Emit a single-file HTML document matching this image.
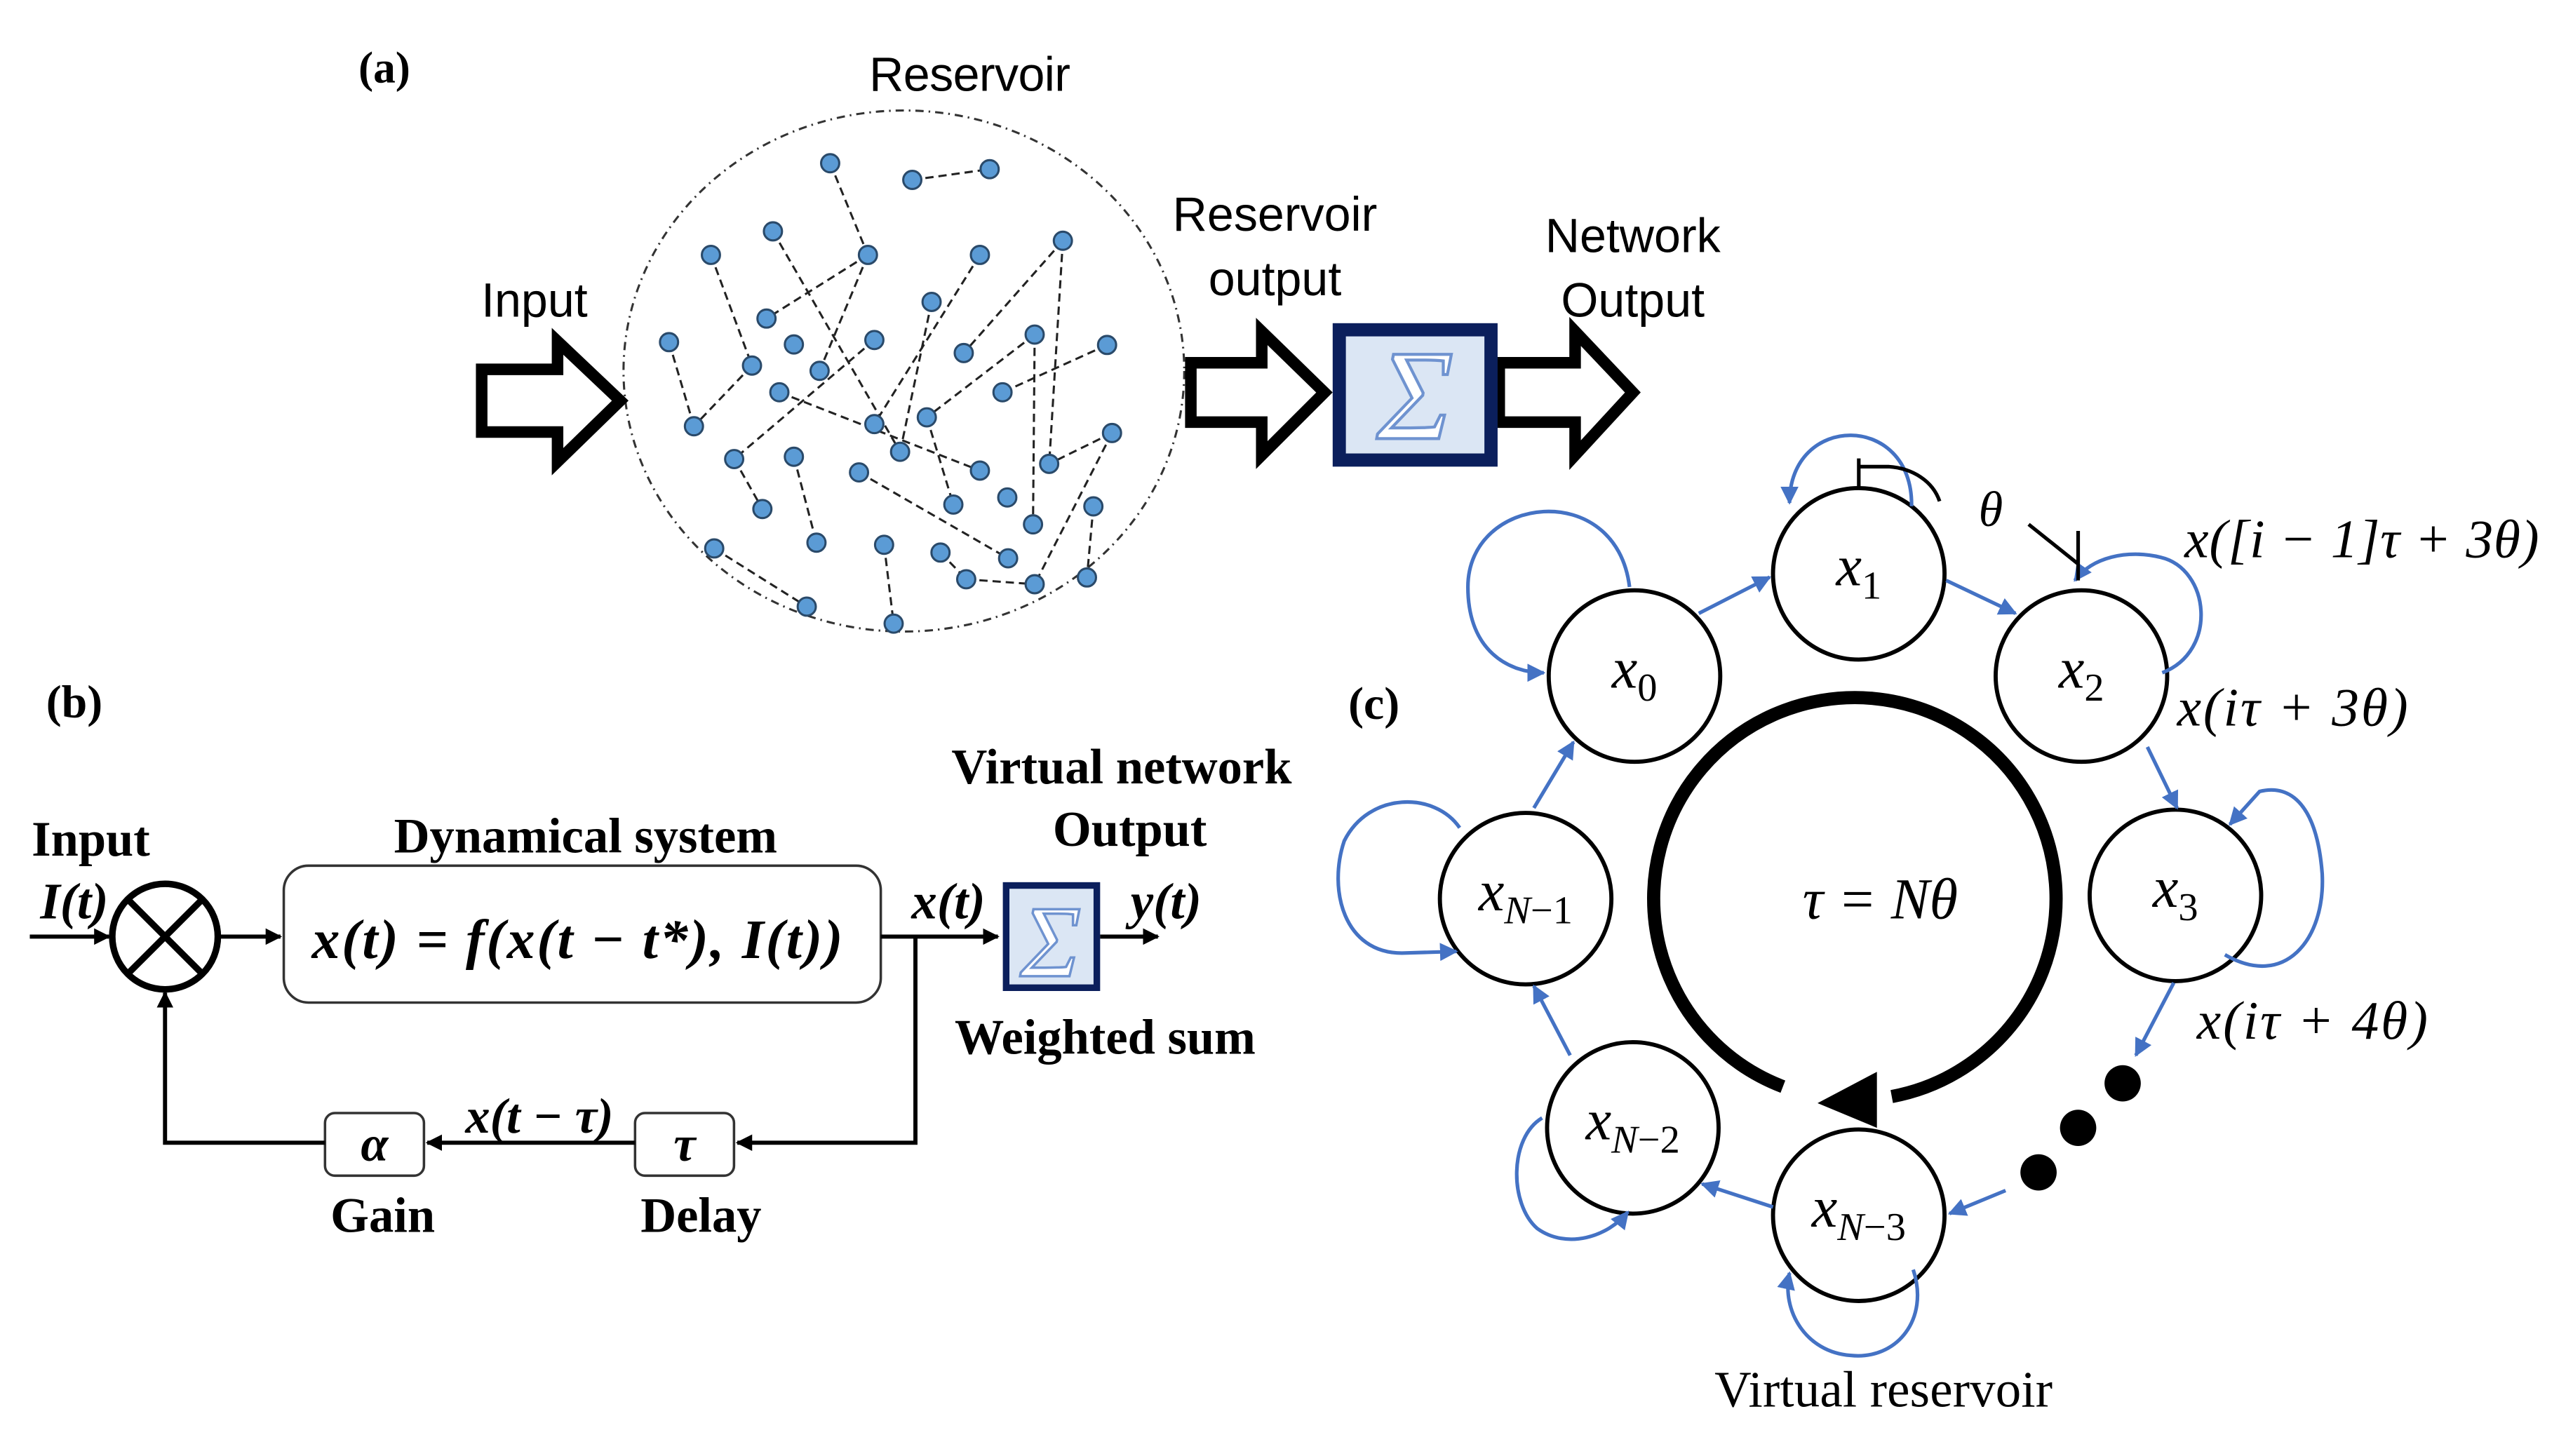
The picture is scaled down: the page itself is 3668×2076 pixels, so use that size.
<!DOCTYPE html>
<html><head><meta charset="utf-8"><style>
html,body{margin:0;padding:0;background:#fff}
svg{display:block}
.sa{font-family:"Liberation Sans",sans-serif;font-size:29px;fill:#000}
.sb{font-family:"Liberation Serif",serif;font-weight:bold;fill:#000}
.mi{font-family:"Liberation Serif",serif;font-style:italic;fill:#000}
.bl{stroke:#4472c4;stroke-width:2.2;fill:none}
</style></head><body>
<svg width="3668" height="2076" viewBox="0 0 1560 883" xmlns="http://www.w3.org/2000/svg">
<defs>
<marker id="ab" viewBox="0 0 10 10" refX="9" refY="5" markerWidth="5" markerHeight="5" orient="auto"><path d="M0,0L10,5L0,10z" fill="#4472c4"/></marker>
<marker id="ak" viewBox="0 0 10 10" refX="9" refY="5" markerWidth="4" markerHeight="4" orient="auto"><path d="M0,0L10,5L0,10z" fill="#000"/></marker>
</defs>
<rect width="1560" height="883" fill="#fff"/>
<!-- (a) -->
<text class="sb" x="233" y="50" font-size="27" text-anchor="middle">(a)</text>
<text class="sa" x="588" y="55" text-anchor="middle" textLength="122">Reservoir</text>
<ellipse cx="548" cy="225" rx="170" ry="158" fill="none" stroke="#333" stroke-width="1.3" stroke-dasharray="5,3,1,3"/>
<g stroke="#222" stroke-width="1.3" stroke-dasharray="5,3" fill="none">
<line x1="553.1" y1="109.1" x2="600" y2="102.6"/>
<line x1="503.3" y1="99" x2="526.2" y2="154.6"/>
<line x1="526.2" y1="154.6" x2="464.7" y2="193.2"/>
<line x1="526.2" y1="154.6" x2="496.9" y2="224.9"/>
<line x1="468.6" y1="140.3" x2="545.7" y2="274"/>
<line x1="431" y1="154.6" x2="455.9" y2="221.7"/>
<line x1="455.9" y1="221.7" x2="420.7" y2="258.5"/>
<line x1="405.6" y1="207.5" x2="420.7" y2="258.5"/>
<line x1="594.1" y1="154.6" x2="530.1" y2="257.2"/>
<line x1="644.4" y1="146" x2="584.3" y2="214.1"/>
<line x1="644.4" y1="146" x2="636.1" y2="281.3"/>
<line x1="627.3" y1="202.9" x2="626.3" y2="318"/>
<line x1="627.3" y1="202.9" x2="561.9" y2="253.1"/>
<line x1="671.2" y1="209.2" x2="607.8" y2="237.9"/>
<line x1="530.1" y1="206.2" x2="445.1" y2="278.4"/>
<line x1="472.5" y1="237.9" x2="594.1" y2="285.4"/>
<line x1="561.9" y1="253.1" x2="578" y2="306"/>
<line x1="674.2" y1="262.6" x2="636.1" y2="281.3"/>
<line x1="674.2" y1="262.6" x2="627.3" y2="354.3"/>
<line x1="445.1" y1="278.4" x2="462.2" y2="308.7"/>
<line x1="481.3" y1="277" x2="495" y2="329.1"/>
<line x1="520.8" y1="286.5" x2="611.2" y2="338.6"/>
<line x1="536" y1="330.4" x2="541.8" y2="378.2"/>
<line x1="570.2" y1="335.1" x2="585.8" y2="351.3"/>
<line x1="585.8" y1="351.3" x2="627.3" y2="354.3"/>
<line x1="662.9" y1="307.1" x2="659" y2="350.2"/>
<line x1="433" y1="332.6" x2="489.1" y2="367.9"/>
<line x1="564.8" y1="183.1" x2="545.7" y2="274"/>
</g>
<g fill="#5b9bd5" stroke="#2a4a6a" stroke-width="1.3">
<circle cx="503.3" cy="99" r="5.5"/><circle cx="553.1" cy="109.1" r="5.5"/><circle cx="600" cy="102.6" r="5.5"/>
<circle cx="468.6" cy="140.3" r="5.5"/><circle cx="431" cy="154.6" r="5.5"/><circle cx="526.2" cy="154.6" r="5.5"/>
<circle cx="594.1" cy="154.6" r="5.5"/><circle cx="644.4" cy="146" r="5.5"/><circle cx="564.8" cy="183.1" r="5.5"/>
<circle cx="464.7" cy="193.2" r="5.5"/><circle cx="405.6" cy="207.5" r="5.5"/><circle cx="481.3" cy="208.9" r="5.5"/>
<circle cx="530.1" cy="206.2" r="5.5"/><circle cx="455.9" cy="221.7" r="5.5"/><circle cx="496.9" cy="224.9" r="5.5"/>
<circle cx="584.3" cy="214.1" r="5.5"/><circle cx="627.3" cy="202.9" r="5.5"/><circle cx="671.2" cy="209.2" r="5.5"/>
<circle cx="472.5" cy="237.9" r="5.5"/><circle cx="607.8" cy="237.9" r="5.5"/><circle cx="420.7" cy="258.5" r="5.5"/>
<circle cx="530.1" cy="257.2" r="5.5"/><circle cx="561.9" cy="253.1" r="5.5"/><circle cx="674.2" cy="262.6" r="5.5"/>
<circle cx="445.1" cy="278.4" r="5.5"/><circle cx="481.3" cy="277" r="5.5"/><circle cx="545.7" cy="274" r="5.5"/>
<circle cx="594.1" cy="285.4" r="5.5"/><circle cx="636.1" cy="281.3" r="5.5"/><circle cx="520.8" cy="286.5" r="5.5"/>
<circle cx="462.2" cy="308.7" r="5.5"/><circle cx="578" cy="306" r="5.5"/><circle cx="610.7" cy="301.7" r="5.5"/>
<circle cx="626.3" cy="318" r="5.5"/><circle cx="662.9" cy="307.1" r="5.5"/><circle cx="433" cy="332.6" r="5.5"/>
<circle cx="495" cy="329.1" r="5.5"/><circle cx="536" cy="330.4" r="5.5"/><circle cx="570.2" cy="335.1" r="5.5"/>
<circle cx="611.2" cy="338.6" r="5.5"/><circle cx="585.8" cy="351.3" r="5.5"/><circle cx="627.3" cy="354.3" r="5.5"/>
<circle cx="659" cy="350.2" r="5.5"/><circle cx="489.1" cy="367.9" r="5.5"/><circle cx="541.8" cy="378.2" r="5.5"/>
</g>
<text class="sa" x="324" y="192" text-anchor="middle">Input</text>
<path d="M292,224 H338 V207 L376,243 L338,280 V262 H292 Z" fill="#fff" stroke="#000" stroke-width="7" stroke-linejoin="miter"/>
<text class="sa" x="773" y="140" text-anchor="middle">Reservoir</text>
<text class="sa" x="773" y="179" text-anchor="middle">output</text>
<path d="M722,220 H765 V201 L803,238 L765,276 V256 H722 Z" fill="#fff" stroke="#000" stroke-width="7"/>
<text class="sa" x="990" y="153" text-anchor="middle">Network</text>
<text class="sa" x="990" y="192" text-anchor="middle">Output</text>
<path d="M909,220 H955 V201 L990,238 L955,276 V256 H909 Z" fill="#fff" stroke="#000" stroke-width="7"/>
<rect x="812" y="200" width="92" height="79" fill="#dbe6f4" stroke="#0b1f5c" stroke-width="8"/>
<text x="858" y="266" text-anchor="middle" font-family="Liberation Serif,serif" font-style="italic" font-size="78" fill="#fff" stroke="#6f93d0" stroke-width="1.8">Σ</text>
<!-- (b) -->
<text class="sb" x="45" y="435" font-size="28" text-anchor="middle">(b)</text>
<text class="sb" x="55" y="519" font-size="30" text-anchor="middle">Input</text>
<text class="mi" x="45" y="557" font-size="31" font-weight="bold" text-anchor="middle">I(t)</text>
<line x1="18" y1="568" x2="66" y2="568" stroke="#000" stroke-width="2.5" marker-end="url(#ak)"/>
<circle cx="100" cy="568" r="32" fill="#fff" stroke="#000" stroke-width="4"/>
<line x1="77" y1="545" x2="123" y2="591" stroke="#000" stroke-width="4"/>
<line x1="123" y1="545" x2="77" y2="591" stroke="#000" stroke-width="4"/>
<line x1="133" y1="568" x2="170" y2="568" stroke="#000" stroke-width="2.5" marker-end="url(#ak)"/>
<text class="sb" x="355" y="517" font-size="30" text-anchor="middle">Dynamical system</text>
<rect x="172" y="525" width="362" height="83" rx="15" fill="#fff" stroke="#333" stroke-width="1.5"/>
<text class="mi" x="350" y="581" font-size="34" font-weight="bold" text-anchor="middle" textLength="322">x(t) = f(x(t − t*), I(t))</text>
<line x1="534" y1="568" x2="605" y2="568" stroke="#000" stroke-width="2.5" marker-end="url(#ak)"/>
<text class="mi" x="575" y="557" font-size="31" font-weight="bold" text-anchor="middle">x(t)</text>
<rect x="610" y="537" width="55" height="62" fill="#dbe6f4" stroke="#0b1f5c" stroke-width="4"/>
<text x="637" y="592" text-anchor="middle" font-family="Liberation Serif,serif" font-style="italic" font-size="62" fill="#fff" stroke="#6f93d0" stroke-width="1.5">Σ</text>
<line x1="667" y1="568" x2="702" y2="568" stroke="#000" stroke-width="2.5" marker-end="url(#ak)"/>
<text class="mi" x="707" y="557" font-size="31" font-weight="bold" text-anchor="middle">y(t)</text>
<text class="sb" x="680" y="475" font-size="30" text-anchor="middle">Virtual network</text>
<text class="sb" x="685" y="513" font-size="30" text-anchor="middle">Output</text>
<text class="sb" x="670" y="639" font-size="30" text-anchor="middle">Weighted sum</text>
<polyline points="555,568 555,693 447,693" fill="none" stroke="#000" stroke-width="2.5" marker-end="url(#ak)"/>
<rect x="385" y="675" width="60" height="38" rx="6" fill="#fff" stroke="#333" stroke-width="1.5"/>
<text class="mi" x="415" y="704" font-size="30" font-weight="bold" text-anchor="middle">τ</text>
<line x1="385" y1="693" x2="259" y2="693" stroke="#000" stroke-width="2.5" marker-end="url(#ak)"/>
<text class="mi" x="327" y="687" font-size="30" font-weight="bold" text-anchor="middle">x(t − τ)</text>
<rect x="197" y="675" width="60" height="38" rx="6" fill="#fff" stroke="#333" stroke-width="1.5"/>
<text class="mi" x="227" y="704" font-size="30" font-weight="bold" text-anchor="middle">α</text>
<polyline points="197,693 100,693 100,602" fill="none" stroke="#000" stroke-width="2.5" marker-end="url(#ak)"/>
<text class="sb" x="232" y="747" font-size="30" text-anchor="middle">Gain</text>
<text class="sb" x="425" y="747" font-size="30" text-anchor="middle">Delay</text>
<!-- (c) -->
<text class="sb" x="833" y="436" font-size="28" text-anchor="middle">(c)</text>
<path d="M1081,659 A122,122 0 1 1 1147,665" fill="none" stroke="#000" stroke-width="8"/>
<path d="M1138,650 L1138,684 L1102,669 Z" fill="#000"/>
<text class="mi" x="1140" y="557" font-size="35" text-anchor="middle">τ = Nθ</text>
<g fill="#fff" stroke="#000" stroke-width="2.5">
<circle cx="1127" cy="348" r="52"/><circle cx="991" cy="410" r="52"/><circle cx="1262" cy="410" r="52"/>
<circle cx="1319" cy="543" r="52"/><circle cx="925" cy="545" r="52"/><circle cx="990" cy="684" r="52"/><circle cx="1127" cy="737" r="52"/>
</g>
<g class="mi" font-size="35" text-anchor="middle">
<text x="1127" y="355">x<tspan font-size="24" dy="8" font-style="normal">1</tspan></text>
<text x="991" y="417">x<tspan font-size="24" dy="8" font-style="normal">0</tspan></text>
<text x="1262" y="417">x<tspan font-size="24" dy="8" font-style="normal">2</tspan></text>
<text x="1319" y="550">x<tspan font-size="24" dy="8" font-style="normal">3</tspan></text>
<text x="925" y="552">x<tspan font-size="24" dy="8">N</tspan><tspan font-size="24" font-style="normal">−1</tspan></text>
<text x="990" y="691">x<tspan font-size="24" dy="8">N</tspan><tspan font-size="24" font-style="normal">−2</tspan></text>
<text x="1127" y="744">x<tspan font-size="24" dy="8">N</tspan><tspan font-size="24" font-style="normal">−3</tspan></text>
</g>
<g class="bl" marker-end="url(#ab)">
<line x1="1030" y1="372" x2="1073" y2="350"/>
<line x1="1180" y1="352" x2="1222" y2="372"/>
<line x1="1302" y1="453" x2="1320" y2="490"/>
<line x1="1318" y1="596" x2="1295" y2="640"/>
<line x1="1216" y1="722" x2="1182" y2="736"/>
<line x1="1075" y1="732" x2="1032" y2="718"/>
<line x1="952" y1="640" x2="930" y2="598"/>
<line x1="930" y1="490" x2="954" y2="450"/>
<path d="M1159,307 C1160,250 1085,250 1085,305"/>
<path d="M988,356 C980,290 890,300 890,356 C890,395 915,408 936,408"/>
<path d="M1311,408 C1345,395 1340,345 1310,338 C1290,333 1268,338 1258,352"/>
<path d="M1349,579 C1385,600 1410,570 1408,530 C1405,490 1390,475 1370,480 L1352,500"/>
<path d="M885,502 C870,480 830,480 815,510 C805,540 815,578 850,578 L883,577"/>
<path d="M935,678 C915,690 915,730 932,745 C950,758 975,750 987,735"/>
<path d="M1160,770 C1170,800 1150,825 1122,822 C1095,820 1080,795 1085,772"/>
</g>
<circle cx="1287" cy="657" r="11" fill="#000"/>
<circle cx="1260" cy="684" r="11" fill="#000"/>
<circle cx="1236" cy="711" r="11" fill="#000"/>
<g stroke="#000" stroke-width="2.2" fill="none">
<line x1="1127" y1="278" x2="1127" y2="297"/>
<path d="M1127,283 H1145 C1160,284 1172,292 1176,304"/>
<line x1="1230" y1="318" x2="1260" y2="342"/>
<line x1="1260" y1="322" x2="1260" y2="352"/>
</g>
<text class="mi" x="1207" y="319" font-size="30" text-anchor="middle">θ</text>
<text class="mi" x="1432" y="338" font-size="33" text-anchor="middle" textLength="215">x([i − 1]τ + 3θ)</text>
<text class="mi" x="1390" y="440" font-size="33" text-anchor="middle" textLength="140">x(iτ + 3θ)</text>
<text class="mi" x="1402" y="630" font-size="33" text-anchor="middle" textLength="140">x(iτ + 4θ)</text>
<text x="1142" y="853" font-family="Liberation Serif,serif" font-size="31" text-anchor="middle" textLength="205">Virtual reservoir</text>
</svg>
</body></html>
